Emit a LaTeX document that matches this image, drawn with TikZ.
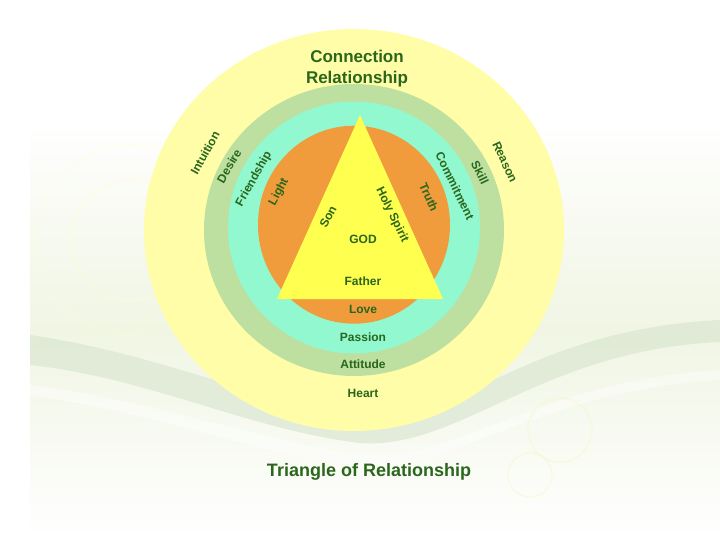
\documentclass[tikz,border=0pt]{standalone}
\usepackage{fontspec}
\setmainfont{Liberation Sans}
\usepackage{xcolor}
\definecolor{txtgreen}{RGB}{42,102,28}
\definecolor{ringyellow}{RGB}{255,253,168}
\definecolor{ringgreen}{RGB}{189,224,160}
\definecolor{ringaqua}{RGB}{146,248,208}
\definecolor{ringorange}{RGB}{240,156,60}
\definecolor{triyellow}{RGB}{255,255,80}
\definecolor{bgpale}{RGB}{234,241,216}
\definecolor{bgband}{RGB}{214,228,205}

\begin{document}
\begin{tikzpicture}[x=1pt,y=-1pt,
    lbl/.style={text=txtgreen,font=\bfseries\fontsize{12}{12}\selectfont,inner sep=0pt},
    head/.style={text=txtgreen,font=\bfseries\fontsize{17}{21}\selectfont,align=center,inner sep=0pt}]
    \useasboundingbox (0,0) rectangle (720,540);
    % background
    \fill[white] (0,0) rectangle (720,540);
    \shade[top color=white,bottom color=bgpale!70] (30,120) rectangle (720,330);
    \shade[top color=bgpale!70,bottom color=white] (30,330) rectangle (720,540);
    \fill[bgband,opacity=.6] (30,335) .. controls (150,352) and (260,400) .. (360,420)
        .. controls (450,430) and (520,330) .. (720,320) -- (720,342)
        .. controls (540,350) and (460,450) .. (360,443)
        .. controls (250,430) and (150,378) .. (30,365) -- cycle;
    \fill[white,opacity=.4] (30,385) .. controls (150,400) and (260,440) .. (360,455)
        .. controls (450,465) and (540,380) .. (720,370) -- (720,380)
        .. controls (540,390) and (450,473) .. (360,466)
        .. controls (250,453) and (150,410) .. (30,396) -- cycle;
    \draw[ringyellow!50!bgpale,line width=1.5pt,opacity=.35] (560,430) circle (32);
    \draw[ringyellow!50!bgpale,line width=1.5pt,opacity=.35] (530,475) circle (22);
    \draw[ringyellow!50!white,line width=3pt,opacity=.25] (130,240) circle (60);
    \draw[ringyellow!50!white,line width=2pt,opacity=.25] (130,240) circle (95);
    % rings
    \fill[ringyellow] (354,230) ellipse [x radius=210,y radius=201];
    \fill[ringgreen] (354,230) ellipse [x radius=150,y radius=146];
    \fill[ringaqua] (354,227.5) ellipse [x radius=126,y radius=126];
    \fill[ringorange] (354,224.7) ellipse [x radius=96,y radius=99];
    % triangle
    \coordinate (apex) at (360,115);
    \coordinate (right) at (443,299);
    \coordinate (left) at (277,299);
    \fill[triyellow] (apex) -- (right) -- (left) -- cycle;
    % labels
    \node[head] (conn) at (357,69) {Connection\\Relationship};
    \node[lbl] (heart) at (363,393) {Heart};
    \node[lbl] (attitude) at (363,364.5) {Attitude};
    \node[lbl] (passion) at (363,337) {Passion};
    \node[lbl] (love) at (363,309) {Love};
    \node[lbl] (father) at (363,281) {Father};
    \node[lbl] (god) at (363,239) {GOD};
    \node[lbl,rotate=62] (son) at (328,217) {Son};
    \node[lbl,rotate=-64] (spirit) at (392,215) {Holy Spirit};
    \node[lbl,rotate=62] (light) at (279,192) {Light};
    \node[lbl,rotate=-66] (truth) at (429,197) {Truth};
    \node[lbl,rotate=61] (friend) at (254,179) {Friendship};
    \node[lbl,rotate=-64] (commit) at (455,186) {Commitment};
    \node[lbl,rotate=60] (desire) at (229,166) {Desire};
    \node[lbl,rotate=-64] (skill) at (480,173) {Skill};
    \node[lbl,rotate=61] (intuition) at (205,153) {Intuition};
    \node[lbl,rotate=-65] (reason) at (505,162) {Reason};
    \node[text=txtgreen,font=\bfseries\fontsize{18}{18}\selectfont,anchor=base] (title) at (369,476.5) {Triangle of Relationship};
\end{tikzpicture}
\end{document}
